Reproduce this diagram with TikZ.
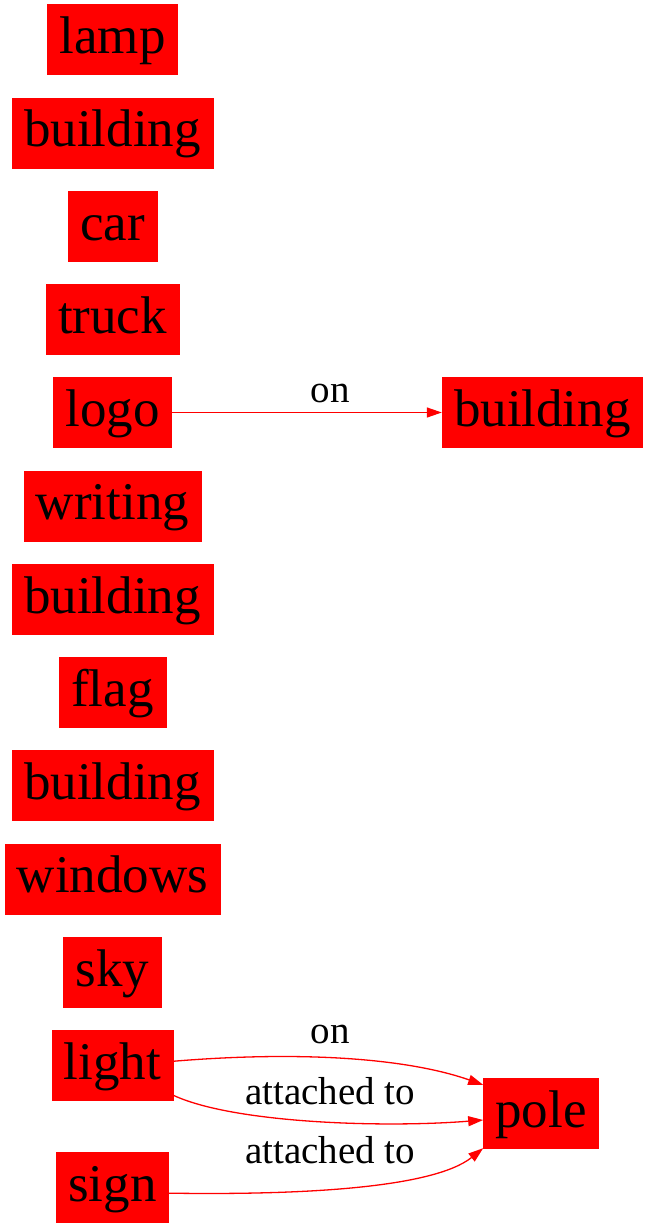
\documentclass[tikz,border=0pt]{standalone}
\usepackage{fontspec}
\setmainfont{Liberation Serif}
\usetikzlibrary{positioning, arrows.meta}

\begin{document}
\begin{tikzpicture}[x=1pt, y=-1pt, node distance=22.85pt]
    \tikzstyle{objbox} = [rectangle, draw=red, fill=red, text=black, inner xsep=12pt, inner ysep=9pt, text height=40pt, text depth=12pt, font=\fontsize{53pt}{60pt}\selectfont]
    \tikzstyle{lbl} = [anchor=base, inner sep=0pt, font=\fontsize{39pt}{45pt}\selectfont]
    \tikzstyle{edge} = [draw=red, line width=1.3pt, -{Triangle[length=15pt, width=10pt]}]

    \useasboundingbox (0,0) rectangle (647,1228);

    % left column
    \node [objbox] (lamp) at (112.5,39.5) {lamp};
    \node [objbox, below=of lamp] (building1) {building};
    \node [objbox, below=of building1] (car) {car};
    \node [objbox, below=of car] (truck) {truck};
    \node [objbox, below=of truck] (logo) {logo};
    \node [objbox, below=of logo] (writing) {writing};
    \node [objbox, below=of writing] (building2) {building};
    \node [objbox, below=of building2] (flag) {flag};
    \node [objbox, below=of flag] (building3) {building};
    \node [objbox, below=of building3] (windows) {windows};
    \node [objbox, below=of windows] (sky) {sky};
    \node [objbox, below=of sky] (light) {light};
    \node [objbox, below=51.5pt of light] (sign) {sign};

    % right column
    \node [objbox, right=270pt of logo] (building4) {building};
    \node [objbox] (pole) at (541,1113) {pole};

    % relations
    \path [edge] (logo) -- (building4);
    \node [lbl] (onlogo) at (330,402) {on};

    \path [edge] ([yshift=4pt]light.east) .. controls +(120,-10) and +(-80,-28) .. ([yshift=-7pt]pole.north west);
    \node [lbl] (onlight) at (330,1043) {on};

    \path [edge] ([yshift=-30pt]light.east) .. controls +(60,28) and +(-100,8) .. ([yshift=-7pt]pole.west);
    \node [lbl] (attlight) at (330,1104) {attached to};

    \path [edge] ([yshift=-6pt]sign.east) .. controls +(132,2) and +(-50,40) .. (pole.south west);
    \node [lbl] (attsign) at (330,1163) {attached to};
\end{tikzpicture}
\end{document}
